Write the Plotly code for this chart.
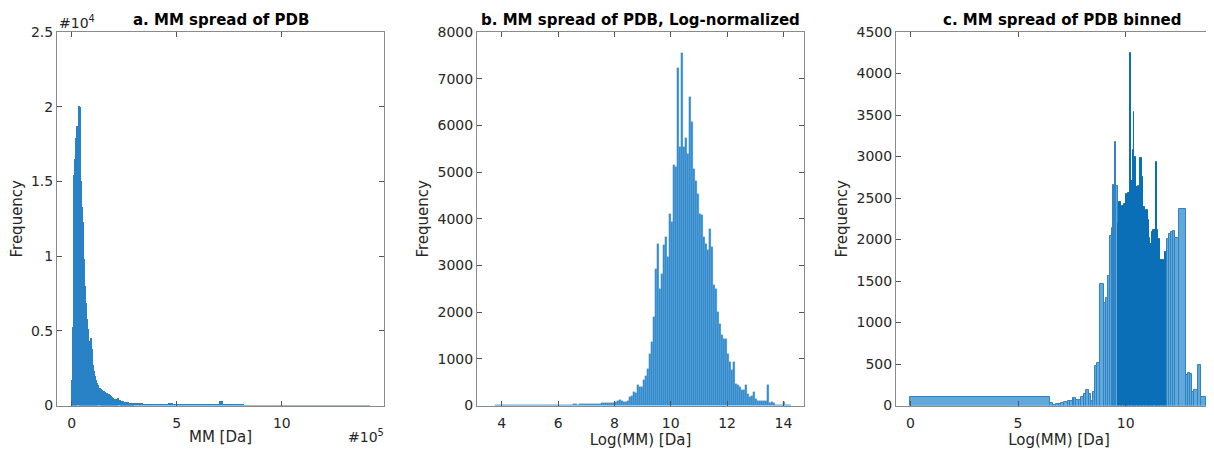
import plotly.graph_objects as go

# ---------------- data ----------------
# Panel a: histogram of molecular mass (Da)
a_main_start = 0
a_main_width = 5000
a_main_counts = [1700, 5250, 15400, 16500, 17900, 18700, 20050, 20000, 15000, 13300,
                 12300, 9800, 8000, 6850, 5800, 5100, 4300, 3900, 4550, 3800,
                 2700, 2300, 2000, 1700, 1500, 1350, 1200, 1100, 1050, 1000,
                 950, 900, 860, 820, 780, 740, 700, 620, 560, 500,
                 460, 420, 400, 430, 500, 380, 320, 290, 270, 260,
                 240, 230, 220, 210, 200, 190, 180, 170, 160, 160]
a_tail_start = 300000
a_tail_width = 20000
a_tail_counts = [170, 200, 130, 110, 100, 95, 90, 110, 150, 80,
                 75, 70, 65, 60, 60, 55, 50, 50, 50, 60,
                 300, 45, 40, 38, 36, 35, 33, 30, 30, 28,
                 26, 25, 24, 22, 20, 20, 18, 17, 16, 15,
                 14, 13, 12, 12, 11, 10, 10, 9, 9, 8,
                 8, 7, 7, 6, 6, 5]

# Panel b: histogram of log(MM)
b_start = 3.77
b_width = 0.071
b_counts = [3, 2, 3, 2, 4, 3, 2, 3, 4, 3,
            2, 3, 4, 3, 5, 4, 3, 5, 4, 6,
            5, 4, 6, 5, 7, 6, 5, 7, 8, 6,
            8, 9, 10, 12, 11, 13, 15, 14, 18, 22,
            40, 20, 22, 25, 24, 27, 28, 30, 34, 36,
            35, 40, 42, 45, 48, 60, 50, 48, 52, 55,
            65, 90, 110, 100, 70, 75, 90, 180, 200, 280,
            270, 430, 390, 400, 540, 640, 786, 1108, 1358, 1894,
            2931, 3467, 2502, 2824, 3431, 3610, 3181, 4111, 3932, 5147,
            5110, 7221, 5540, 7556, 5540, 5720, 5397, 6613, 6076, 5076,
            4800, 4540, 4111, 4080, 3610, 3467, 3324, 3780, 3395, 2574,
            2502, 2001, 1752, 1501, 1430, 1430, 1108, 929, 750, 929,
            465, 429, 393, 322, 322, 429, 250, 180, 214, 286,
            143, 107, 107, 100, 95, 107, 429, 50, 70, 50,
            20, 20, 20, 15, 70, 10, 10, 8]

# Panel c: binned log(MM), variable bin edges
c_edges = [0, 6.5, 6.62, 6.75, 6.9, 7.02, 7.14, 7.3, 7.42, 7.54,
           7.62, 7.7, 7.82, 7.94, 8.06, 8.17, 8.29, 8.38, 8.48, 8.57,
           8.67, 8.79, 8.98, 9.08, 9.17, 9.27, 9.35, 9.41, 9.48, 9.52,
           9.57, 9.63, 9.71, 9.78, 9.84, 9.92, 10.0, 10.06, 10.13, 10.19,
           10.24, 10.32, 10.37, 10.41, 10.48, 10.56, 10.63, 10.68, 10.75, 10.81,
           10.89, 10.95, 11.02, 11.08, 11.14, 11.21, 11.29, 11.40, 11.44, 11.51,
           11.59, 11.68, 11.78, 11.84, 11.90, 12.0, 12.1, 12.19, 12.29, 12.46,
           12.81, 12.90, 12.98, 13.08, 13.17, 13.38, 13.48, 13.71, 13.90, 14.48]
c_counts = [100, 30, 12, 18, 22, 35, 48, 50, 52, 95,
            85, 65, 72, 100, 140, 189, 140, 52, 160, 470,
            510, 1460, 1235, 1290, 1556, 2040, 2140, 2662, 2655, 3177,
            2650, 2190, 2453, 2100, 2400, 2430, 2553, 2170, 2560, 4243,
            2710, 3084, 3538, 2996, 2630, 2640, 2390, 2984, 2750, 2390,
            2310, 2350, 2230, 2020, 1950, 2095, 2120, 2928, 2110, 2010,
            1757, 1757, 1629, 1850, 2010, 2070, 2090, 2100, 2015, 2373,
            370, 394, 380, 160, 190, 483, 100, 30, 35]

# axis ticks
a_xtick_vals = [0, 500000, 1000000]
a_xtick_text = ["0", "5", "10"]
a_ytick_vals = [0, 5000, 10000, 15000, 20000, 25000]
a_ytick_text = ["0", "0.5", "1", "1.5", "2", "2.5"]
b_xtick_vals = [4, 6, 8, 10, 12, 14]
b_ytick_vals = [0, 1000, 2000, 3000, 4000, 5000, 6000, 7000, 8000]
c_xtick_vals = [0, 5, 10]
c_ytick_vals = [0, 500, 1000, 1500, 2000, 2500, 3000, 3500, 4000, 4500]

titles = ["a. MM spread of PDB", "b. MM spread of PDB, Log-normalized", "c. MM spread of PDB binned"]

# ---------------- build ----------------
def edges_from(start, width, n):
    return [start + i * width for i in range(n + 1)]

a_edges = edges_from(a_main_start, a_main_width, len(a_main_counts)) + \
    edges_from(a_tail_start, a_tail_width, len(a_tail_counts))[1:]
a_counts = a_main_counts + a_tail_counts
b_edges = edges_from(b_start, b_width, len(b_counts))


def centers_widths(edges):
    c = [(edges[i] + edges[i + 1]) / 2 for i in range(len(edges) - 1)]
    w = [edges[i + 1] - edges[i] for i in range(len(edges) - 1)]
    return c, w

W, H = 1214, 450
OFF = 8  # page body margin offset (screen px -> figure px)
fig = go.Figure()

ac, aw = centers_widths(a_edges)
fig.add_trace(go.Bar(x=ac, y=a_counts, width=aw, marker=dict(color="#2a82c6", line=dict(width=0)),
                     xaxis="x", yaxis="y", showlegend=False))
bc, bw = centers_widths(b_edges)
fig.add_trace(go.Bar(x=bc, y=b_counts, width=bw,
                     marker=dict(color="#338bcb", line=dict(width=0.3, color="#5aa3d8")),
                     xaxis="x2", yaxis="y2", showlegend=False))
cc, cw = centers_widths(c_edges)
c_fill = ["#0b6fb8" if 9.63 <= c_edges[i] < 11.9 else "#62a8d9" for i in range(len(c_counts))]
c_line = ["#0b6fb8" if 9.63 <= c_edges[i] < 11.9 else "#2e84c5" for i in range(len(c_counts))]
fig.add_trace(go.Bar(x=cc, y=c_counts, width=cw,
                     marker=dict(color=c_fill, line=dict(width=1, color=c_line)),
                     xaxis="x3", yaxis="y3", showlegend=False))

font_fam = "DejaVu Sans"
tick_font = dict(family=font_fam, size=14, color="#262626")
title_font = dict(family=font_fam, size=15, color="#262626")
line_col = "#8a8a8a"


def sx(px):
    return (px - OFF) / W


def sy(py):
    return 1 - (py - OFF) / H

top_px, bot_px = 32, 405.5
ydom = [sy(bot_px), sy(top_px)]
panels = [(57, 384), (477, 804), (896, 1214 + OFF)]


def xdom(p):
    return [sx(p[0]), min(1.0, sx(p[1]))]

common_x = dict(showline=True, linecolor=line_col, linewidth=1, ticks="inside", ticklen=5,
                tickcolor="#555555", showgrid=False, zeroline=False, tickfont=tick_font,
                title_font=title_font, ticklabelstandoff=5, automargin=False)
common_y = dict(showline=True, linecolor=line_col, linewidth=1, ticks="inside", ticklen=5,
                tickcolor="#555555", showgrid=False, zeroline=False, tickfont=tick_font,
                title_font=title_font, automargin=False)

fig.update_layout(
    width=W, height=H, margin=dict(l=0, r=0, t=0, b=0),
    paper_bgcolor="white", plot_bgcolor="white", barmode="overlay", bargap=0,
    xaxis=dict(common_x, domain=xdom(panels[0]), range=[-70000, 1486000], anchor="y", mirror="ticks",
               tickvals=a_xtick_vals, ticktext=a_xtick_text,
               title=dict(text="MM [Da]", standoff=1)),
    yaxis=dict(common_y, domain=ydom, range=[0, 25000], anchor="x", mirror="ticks",
               tickvals=a_ytick_vals, ticktext=a_ytick_text,
               title=dict(text="Frequency", standoff=5)),
    xaxis2=dict(common_x, domain=xdom(panels[1]), range=[3.12, 14.73], anchor="y2", mirror="ticks",
                tickvals=b_xtick_vals, title=dict(text="Log(MM) [Da]", standoff=1)),
    yaxis2=dict(common_y, domain=ydom, range=[0, 8000], anchor="x2", mirror="ticks",
                tickvals=b_ytick_vals, title=dict(text="Frequency", standoff=5)),
    xaxis3=dict(common_x, domain=xdom(panels[2]), range=[-0.667, 14.476], anchor="y3", mirror="ticks",
                tickvals=c_xtick_vals, title=dict(text="Log(MM) [Da]", standoff=1)),
    yaxis3=dict(common_y, domain=ydom, range=[0, 4500], anchor="x3", mirror=False,
                tickvals=c_ytick_vals, title=dict(text="Frequency", standoff=5)),
)

title_centers = [220.5, 640.5, 1062]
annotations = []
for i in range(3):
    annotations.append(dict(text="<b>" + titles[i] + "</b>", xref="paper", yref="paper",
                            x=sx(title_centers[i]), y=sy(20), xanchor="center", yanchor="middle",
                            showarrow=False, font=dict(family=font_fam, size=15, color="#000000")))
annotations.append(dict(text="#10<sup>4</sup>", xref="paper", yref="paper", x=sx(57), y=sy(22),
                        xanchor="left", yanchor="middle", showarrow=False, font=tick_font))
annotations.append(dict(text="#10<sup>5</sup>", xref="paper", yref="paper", x=sx(386), y=sy(436),
                        xanchor="right", yanchor="middle", showarrow=False, font=tick_font))
fig.update_layout(annotations=annotations)

fig.write_html("out.html")
